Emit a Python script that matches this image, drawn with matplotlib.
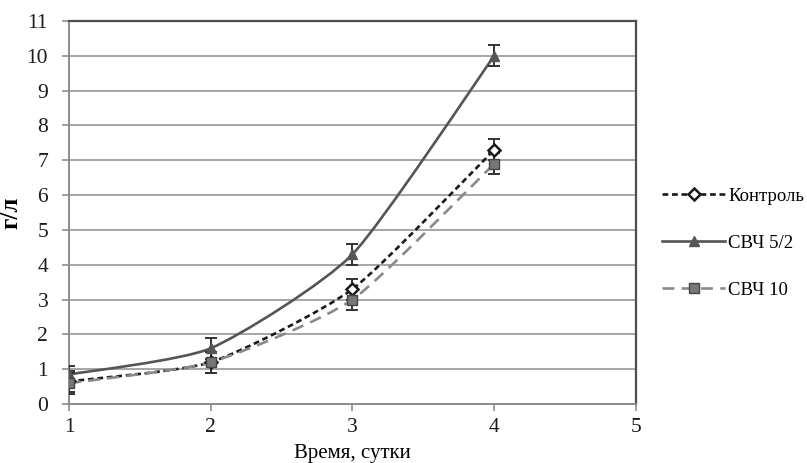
import matplotlib
matplotlib.use("Agg")
import matplotlib.pyplot as plt
import numpy as np
from matplotlib.lines import Line2D
from matplotlib.patches import PathPatch
from matplotlib.path import Path

plt.rcParams["font.family"] = ["Liberation Serif", "DejaVu Serif"]

days = [1, 2, 3, 4]

control = [0.65, 1.2, 3.3, 7.3]
control_err = [0.3, 0.3, 0.3, 0.3]

svch_5_2 = [0.85, 1.6, 4.3, 10.0]
svch_5_2_err = [0.25, 0.3, 0.3, 0.3]

svch_10 = [0.6, 1.2, 3.0, 6.9]
svch_10_err = [0.3, 0.3, 0.3, 0.3]

series_names = ["Контроль", "СВЧ 5/2", "СВЧ 10"]


def smooth_path(xs, ys, k=0.1):
    # bezier through the points, like a spreadsheet "smoothed line"
    pts = np.column_stack([xs, ys]).astype(float)
    verts = [pts[0]]
    codes = [Path.MOVETO]
    n = len(pts)
    for i in range(n - 1):
        p0 = pts[i - 1] if i > 0 else pts[i]
        p1 = pts[i]
        p2 = pts[i + 1]
        p3 = pts[i + 2] if i + 2 < n else pts[i + 1]
        c1 = p1 + (p2 - p0) * k
        c2 = p2 - (p3 - p1) * k
        verts += [c1, c2, p2]
        codes += [Path.CURVE4] * 3
    return Path(verts, codes)


styles = [
    dict(color="#1a1a1a", ls=(0, (2.2, 1.4)), marker="D", mfc="white", mec="#1a1a1a", ms=6.5, mew=1.8),
    dict(color="#555555", ls="-", marker="^", mfc="#555555", mec="#555555", ms=7, mew=1),
    dict(color="#8a8a8a", ls=(0, (4.5, 2.8)), marker="s", mfc="#777777", mec="#444444", ms=6.5, mew=1),
]
values = [control, svch_5_2, svch_10]
errors = [control_err, svch_5_2_err, svch_10_err]

fig = plt.figure(figsize=(8.07, 4.63), dpi=100)
ax = fig.add_axes([0.0855, 0.1274, 0.7025, 0.8272])

ax.set_xlim(1, 5)
ax.set_ylim(0, 11)
ax.set_xticks([1, 2, 3, 4, 5])
ax.set_yticks(range(0, 12))
ax.grid(True, axis="y", color="#a6a6a6", linewidth=1.4, zorder=0)
ax.set_axisbelow(True)

for spine in ["left", "bottom"]:
    ax.spines[spine].set_color("#8c8c8c")
    ax.spines[spine].set_linewidth(1.4)
for spine in ["top", "right"]:
    ax.spines[spine].set_color("#4d4d4d")
    ax.spines[spine].set_linewidth(1.6)

ax.tick_params(axis="both", colors="#8c8c8c", labelcolor="#1a1a1a", labelsize=15.5, length=5, width=1.2)
ax.tick_params(axis="y", pad=10)
ax.tick_params(axis="x", pad=5)

handles = []
for vals, errs, st, name in zip(values, errors, styles, series_names):
    patch = PathPatch(smooth_path(days, vals), facecolor="none", edgecolor=st["color"],
                      linewidth=1.9, linestyle=st["ls"], zorder=3)
    ax.add_patch(patch)
    ax.errorbar(days, vals, yerr=errs, fmt="none", ecolor="#333333", elinewidth=1.4,
                capsize=4, capthick=1.4, zorder=4)
    ax.plot(days, vals, linestyle="none", marker=st["marker"], markerfacecolor=st["mfc"],
            markeredgecolor=st["mec"], markersize=st["ms"], markeredgewidth=st["mew"], zorder=5)
    handles.append(Line2D([], [], color=st["color"], linestyle=st["ls"], linewidth=1.9,
                          marker=st["marker"], markerfacecolor=st["mfc"], markeredgecolor=st["mec"],
                          markersize=st["ms"], markeredgewidth=st["mew"], label=name))

ax.set_xlabel("Время, сутки", fontsize=15, labelpad=5)
ax.set_ylabel("г/л", fontsize=18, fontweight="bold")
ax.yaxis.set_label_coords(-0.083, 0.5)

fig.legend(handles=handles, loc="center left", bbox_to_anchor=(0.82, 0.475), frameon=False,
           fontsize=13.5, handlelength=3.4, handletextpad=0.15, labelspacing=1.6,
           borderaxespad=0, borderpad=0)

fig.savefig("out.png", dpi=100, facecolor="white")
